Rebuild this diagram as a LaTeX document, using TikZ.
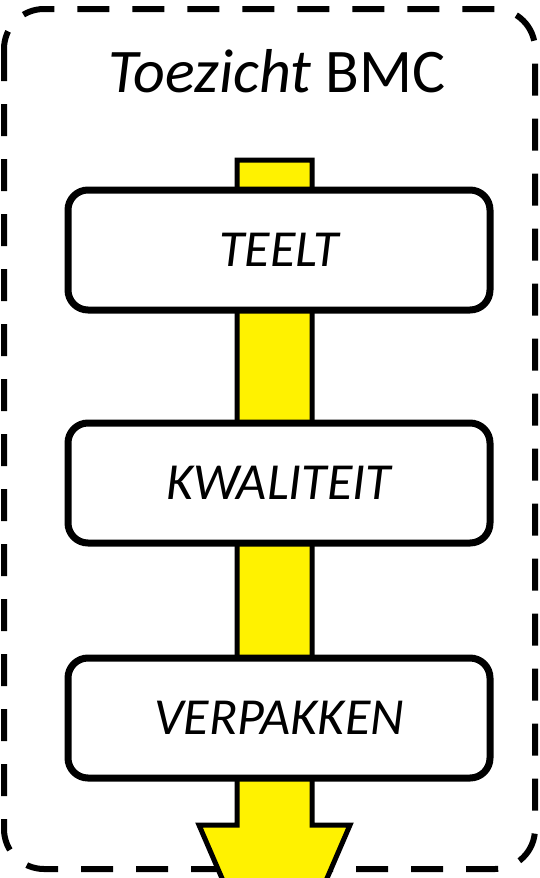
\documentclass[tikz,border=0pt]{standalone}
\usepackage{fontspec}
\setmainfont{Carlito}
\begin{document}
\begin{tikzpicture}[x=1pt,y=-1pt,
  frame/.style={draw=black,line width=6pt,dash pattern=on 32pt off 23pt,rounded corners=40pt},
  flow/.style={draw=black,fill=yellow,line width=5pt,line join=miter},
  stage/.style={draw=black,fill=white,line width=7pt,rounded corners=20pt,minimum width=422pt,minimum height=120pt,inner sep=0pt,font=\fontsize{52}{62}\selectfont\itshape},
  title/.style={anchor=base,inner sep=0pt,font=\fontsize{62}{74}\selectfont}]
\useasboundingbox (0,0) rectangle (539,878);
\clip (0,0) rectangle (539,878);
\draw[frame] (4,9) rectangle (535,869);
\coordinate (top) at (274.5,160);
\coordinate (tip) at (274.5,1000);
\draw[flow] (237,160) -- (312,160) -- (312,825) -- (350,825) -- (tip) -- (199,825) -- (237,825) -- cycle;
\node[title] (ttl) at (277,92) {\textit{Toezicht} BMC};
\node[stage] (teelt) at (279,250) {TEELT};
\node[stage] (kwal) at (279,483) {KWALITEIT};
\node[stage] (verp) at (279,718) {VERPAKKEN};
\end{tikzpicture}
\end{document}
